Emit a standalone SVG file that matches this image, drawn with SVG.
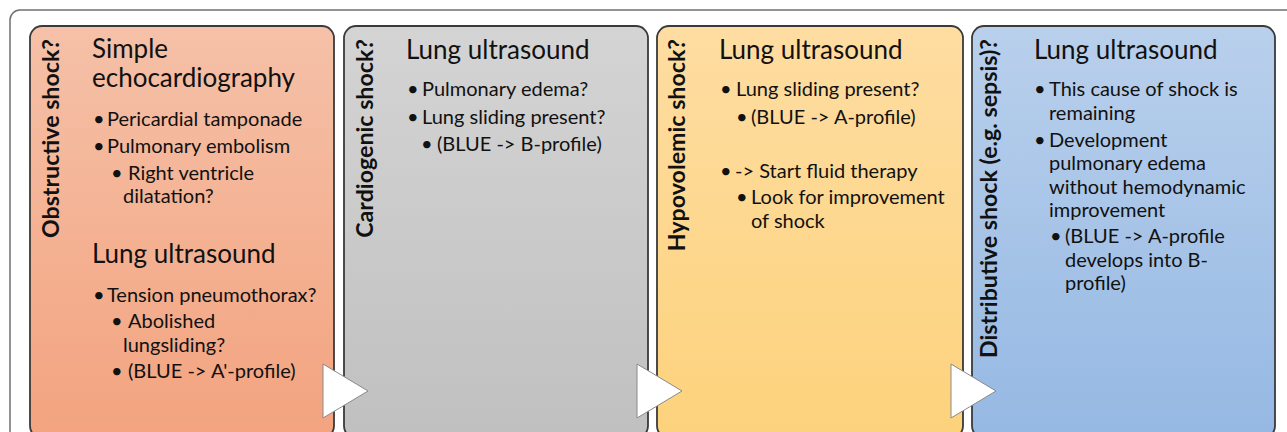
<svg xmlns="http://www.w3.org/2000/svg" width="1287" height="432" viewBox="0 0 1287 432">
  <defs>
    <linearGradient id="g1" x1="0" y1="0" x2="0" y2="1">
      <stop offset="0" stop-color="#F5C1A8"/>
      <stop offset="1" stop-color="#F3A37F"/>
    </linearGradient>
    <linearGradient id="g2" x1="0" y1="0" x2="0" y2="1">
      <stop offset="0" stop-color="#D4D4D4"/>
      <stop offset="1" stop-color="#C0C0C0"/>
    </linearGradient>
    <linearGradient id="g3" x1="0" y1="0" x2="0" y2="1">
      <stop offset="0" stop-color="#FEDDA2"/>
      <stop offset="1" stop-color="#FDD27C"/>
    </linearGradient>
    <linearGradient id="g4" x1="0" y1="0" x2="0" y2="1">
      <stop offset="0" stop-color="#B9D0EC"/>
      <stop offset="1" stop-color="#95B8E3"/>
    </linearGradient>
  </defs>
  <style>
    .frame { fill: #ffffff; stroke: #707070; stroke-width: 1.5; }
    .panel { stroke: #3a3a3a; stroke-width: 1.8; }
    .vlabel { font-family: Lato, "Open Sans", sans-serif; font-weight: bold; font-size: 23.2px; fill: #111; text-anchor: end; }
    .hdr { font-family: Lato, "Open Sans", sans-serif; font-size: 26px; fill: #111; }
    .b { font-family: Lato, "Open Sans", sans-serif; font-size: 20px; fill: #111; }
    .arrow { fill: #ffffff; stroke: #8a8a8a; stroke-width: 1; }
  </style>
  <rect class="frame" x="10" y="10" width="1300" height="460" rx="10"/>

  <g id="node-obstructive">
    <rect class="panel" x="30" y="26" width="304" height="412" rx="12" fill="url(#g1)"/>
    <text class="vlabel" transform="translate(59,39) rotate(-90)">Obstructive shock?</text>
    <text class="hdr" x="92" y="57.5">Simple</text>
    <text class="hdr" x="92" y="87">echocardiography</text>
    <text class="b" x="93" y="126">•</text><text class="b" x="107" y="126">Pericardial tamponade</text>
    <text class="b" x="93" y="153">•</text><text class="b" x="107" y="153">Pulmonary embolism</text>
    <text class="b" x="111" y="180">•</text><text class="b" x="128" y="180">Right ventricle</text>
    <text class="b" x="123" y="203">dilatation?</text>
    <text class="hdr" x="92" y="263">Lung ultrasound</text>
    <text class="b" x="93" y="302">•</text><text class="b" x="107" y="302">Tension pneumothorax?</text>
    <text class="b" x="111" y="328">•</text><text class="b" x="128" y="328">Abolished</text>
    <text class="b" x="123" y="352">lungsliding?</text>
    <text class="b" x="111" y="378">•</text><text class="b" x="128" y="378">(BLUE -&gt; A'-profile)</text>
  </g>

  <g id="node-cardiogenic">
    <rect class="panel" x="344" y="26" width="304" height="412" rx="12" fill="url(#g2)"/>
    <text class="vlabel" transform="translate(372.5,39) rotate(-90)">Cardiogenic shock?</text>
    <text class="hdr" x="406" y="59">Lung ultrasound</text>
    <text class="b" x="407" y="96">•</text><text class="b" x="422" y="96">Pulmonary edema?</text>
    <text class="b" x="407" y="124">•</text><text class="b" x="422" y="124">Lung sliding present?</text>
    <text class="b" x="421" y="151">•</text><text class="b" x="437" y="151">(BLUE -&gt; B-profile)</text>
  </g>

  <g id="node-hypovolemic">
    <rect class="panel" x="657" y="26" width="306" height="412" rx="12" fill="url(#g3)"/>
    <text class="vlabel" transform="translate(685,39) rotate(-90)">Hypovolemic shock?</text>
    <text class="hdr" x="719" y="59">Lung ultrasound</text>
    <text class="b" x="720" y="96">•</text><text class="b" x="736" y="96">Lung sliding present?</text>
    <text class="b" x="736" y="124">•</text><text class="b" x="751" y="124">(BLUE -&gt; A-profile)</text>
    <text class="b" x="720" y="178">•</text><text class="b" x="735" y="178">-&gt; Start fluid therapy</text>
    <text class="b" x="736" y="204">•</text><text class="b" x="751" y="204">Look for improvement</text>
    <text class="b" x="751" y="228">of shock</text>
  </g>

  <g id="node-distributive">
    <rect class="panel" x="972" y="26" width="303" height="412" rx="12" fill="url(#g4)"/>
    <text class="vlabel" transform="translate(997,39) rotate(-90)">Distributive shock (e.g. sepsis)?</text>
    <text class="hdr" x="1034" y="59">Lung ultrasound</text>
    <text class="b" x="1034" y="96">•</text><text class="b" x="1049" y="96">This cause of shock is</text>
    <text class="b" x="1049" y="120">remaining</text>
    <text class="b" x="1034" y="146.5">•</text><text class="b" x="1049" y="146.5">Development</text>
    <text class="b" x="1049" y="170">pulmonary edema</text>
    <text class="b" x="1049" y="193.5">without hemodynamic</text>
    <text class="b" x="1049" y="217">improvement</text>
    <text class="b" x="1050" y="243">•</text><text class="b" x="1065" y="243">(BLUE -&gt; A-profile</text>
    <text class="b" x="1065" y="266.5">develops into B-</text>
    <text class="b" x="1065" y="290">profile)</text>
  </g>

  <g id="connectors">
    <polygon class="arrow" points="323,364 368,391 323,418"/>
    <polygon class="arrow" points="637,364 682,391 637,418"/>
    <polygon class="arrow" points="951,364 996,391 951,418"/>
  </g>
</svg>
